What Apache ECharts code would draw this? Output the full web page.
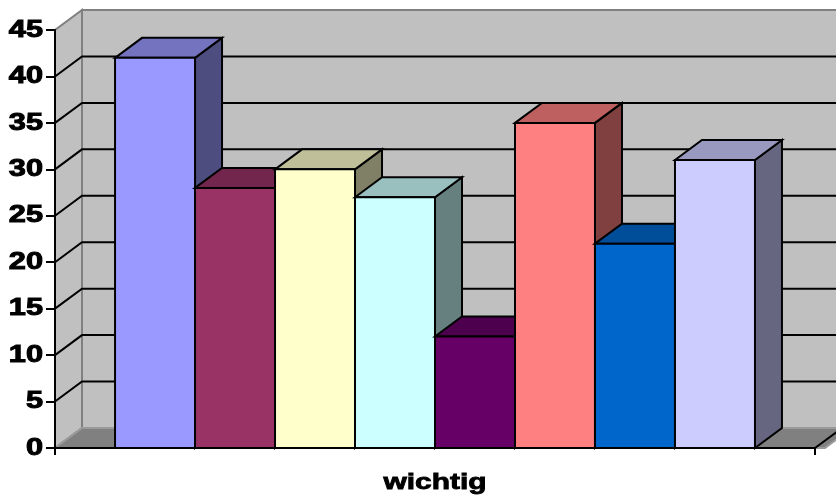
<!DOCTYPE html>
<html>
<head>
<meta charset="utf-8">
<script src="https://cdn.jsdelivr.net/npm/echarts@6/dist/echarts.min.js"></script>
<style>
  html, body { margin: 0; padding: 0; background: #fff; }
  #chart { width: 836px; height: 499px; }
</style>
</head>
<body>
<div id="chart"></div>
<script>
// Data
const categories = ['wichtig'];
const values = [42, 28, 30, 27, 12, 35, 22, 31];
const barColors = ['#9999FF', '#993366', '#FFFFCC', '#CCFFFF', '#660066', '#FF8080', '#0066CC', '#CCCCFF'];
const yTicks = [0, 5, 10, 15, 20, 25, 30, 35, 40, 45];

// Oblique projection offset for the depth of the box
const DX = 27, DY = 20;
const FAMILY = '"Liberation Sans", Arial, sans-serif';

function shade(hex, f) {
  const n = parseInt(hex.slice(1), 16);
  const r = Math.round(((n >> 16) & 255) * f);
  const g = Math.round(((n >> 8) & 255) * f);
  const b = Math.round((n & 255) * f);
  return 'rgb(' + r + ',' + g + ',' + b + ')';
}

const yMax = yTicks[yTicks.length - 1];

// Back wall, side wall, floor and gridlines
function renderWalls(params, api) {
  const cs = params.coordSys;
  const x0 = cs.x, x1 = cs.x + cs.width;
  const yb = api.coord([0, 0])[1];
  const yt = api.coord([0, yMax])[1];
  const children = [];
  children.push({
    type: 'rect',
    shape: { x: x0 + DX, y: yt - DY, width: x1 - x0 + 10, height: yb - yt },
    style: { fill: '#C0C0C0', stroke: '#808080', lineWidth: 2 }
  });
  children.push({
    type: 'polygon',
    shape: { points: [[x0, yb], [x0 + DX, yb - DY], [x0 + DX, yt - DY], [x0, yt]] },
    style: { fill: '#C0C0C0', stroke: '#808080', lineWidth: 2 }
  });
  children.push({
    type: 'polygon',
    shape: { points: [[x0, yb], [x0 + DX, yb - DY], [x1 + DX + 10, yb - DY], [x1 + 10, yb]] },
    style: { fill: '#808080', stroke: '#9A9A9A', lineWidth: 2 }
  });
  children.push({
    type: 'line',
    shape: { x1: x1, y1: yb, x2: x1 + DX, y2: yb - DY },
    style: { stroke: '#000', lineWidth: 2 }
  });
  yTicks.forEach(function (v) {
    if (v === 0 || v === yMax) return;
    const y = api.coord([0, v])[1];
    children.push({
      type: 'polyline',
      shape: { points: [[x0, y], [x0 + DX, y - DY], [x1 + DX + 10, y - DY]] },
      style: { stroke: '#000', lineWidth: 2, fill: null }
    });
  });
  return { type: 'group', children: children };
}

// 3D columns: front face, top face and right side face
function renderBars(params, api) {
  const idx = api.value(2);
  const v = api.value(1);
  const c = api.coord([api.value(0), v]);
  const base = api.coord([api.value(0), 0]);
  const band = api.size([1, 0])[0];
  const total = band * 0.842;
  const bw = total / values.length;
  const left = c[0] - total / 2 + idx * bw;
  const top = c[1], bottom = base[1];
  const color = barColors[idx];
  const stroke = { stroke: '#000', lineWidth: 2, lineJoin: 'miter' };
  return {
    type: 'group',
    children: [
      {
        type: 'polygon',
        shape: { points: [[left + bw, top], [left + bw + DX, top - DY], [left + bw + DX, bottom - DY], [left + bw, bottom]] },
        style: Object.assign({ fill: shade(color, 0.5) }, stroke)
      },
      {
        type: 'polygon',
        shape: { points: [[left, top], [left + DX, top - DY], [left + bw + DX, top - DY], [left + bw, top]] },
        style: Object.assign({ fill: shade(color, 0.75) }, stroke)
      },
      {
        type: 'rect',
        shape: { x: left, y: top, width: bw, height: bottom - top },
        style: Object.assign({ fill: color }, stroke)
      }
    ]
  };
}

// Axis labels, drawn as horizontally stretched heavy text
function renderYLabels(params, api) {
  const cs = params.coordSys;
  const v = api.value(1);
  const y = api.coord([0, v])[1];
  return {
    type: 'text',
    x: cs.x - 12,
    y: y,
    scaleX: 1.28,
    style: {
      text: String(v), fontSize: 24, fontWeight: 'bold', fontFamily: FAMILY,
      fill: '#000', stroke: '#000', lineWidth: 1, align: 'right', verticalAlign: 'middle'
    }
  };
}

function renderXLabel(params, api) {
  const p = api.coord([api.value(0), 0]);
  return {
    type: 'text',
    x: p[0],
    y: p[1] + 35,
    scaleX: 1.36,
    style: {
      text: categories[api.value(0)], fontSize: 22, fontWeight: 'bold', fontFamily: FAMILY,
      fill: '#000', stroke: '#000', lineWidth: 0.8, align: 'center', verticalAlign: 'middle'
    }
  };
}

const chart = echarts.init(document.getElementById('chart'), null, { renderer: 'canvas' });
chart.setOption({
  animation: false,
  backgroundColor: '#fff',
  grid: { left: 55, right: 21, top: 30, bottom: 51 },
  xAxis: {
    type: 'category',
    data: categories,
    z: 10,
    axisLine: { show: true, lineStyle: { color: '#000', width: 2 } },
    axisTick: { show: true, length: 7, lineStyle: { color: '#000', width: 2 } },
    axisLabel: { show: false },
    splitLine: { show: false }
  },
  yAxis: {
    type: 'value',
    min: 0,
    max: yMax,
    interval: 5,
    z: 10,
    axisLine: { show: true, lineStyle: { color: '#000', width: 2 } },
    axisTick: { show: true, length: 9, lineStyle: { color: '#000', width: 2 } },
    axisLabel: { show: false },
    splitLine: { show: false }
  },
  series: [
    {
      type: 'custom',
      z: 1,
      silent: true,
      renderItem: renderWalls,
      data: [[0, 0]]
    },
    {
      type: 'custom',
      z: 2,
      renderItem: renderBars,
      encode: { x: 0, y: 1 },
      data: values.map(function (v, i) { return [0, v, i]; })
    },
    {
      type: 'custom',
      z: 3,
      silent: true,
      renderItem: renderYLabels,
      encode: { x: 0, y: 1 },
      data: yTicks.map(function (v) { return [0, v]; })
    },
    {
      type: 'custom',
      z: 3,
      silent: true,
      renderItem: renderXLabel,
      data: categories.map(function (c, i) { return [i, 0]; })
    }
  ]
});
</script>
</body>
</html>
